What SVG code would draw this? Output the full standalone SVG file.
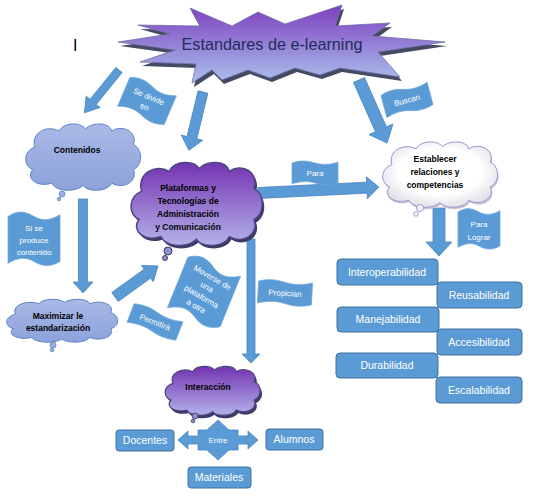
<svg xmlns="http://www.w3.org/2000/svg" xmlns:xlink="http://www.w3.org/1999/xlink" width="534" height="504" viewBox="0 0 534 504">
<style>
.arr{fill:#5b9bd5;stroke:#4a86c2;stroke-width:0.8}
.flag{fill:#5b9bd5;stroke:#6fa8dc;stroke-width:0.8}
.ft{font-family:"Liberation Sans",Arial,sans-serif;font-size:8px;fill:#ffffff;text-anchor:middle}
.box{fill:#5b9bd5;stroke:#41719c;stroke-width:1}
.bt{font-family:"Liberation Sans",Arial,sans-serif;font-size:10.5px;fill:#ffffff;text-anchor:middle}
.ct{font-family:"Liberation Sans",Arial,sans-serif;font-size:8.5px;font-weight:bold;fill:#000000;text-anchor:middle}
</style>
<defs>
<linearGradient id="gStar" x1="0" y1="0" x2="0" y2="1">
<stop offset="0" stop-color="#7f3fc0"/><stop offset="1" stop-color="#a9c0ec"/>
</linearGradient>
<linearGradient id="gBlue" x1="0" y1="0" x2="0" y2="1">
<stop offset="0" stop-color="#aab9e6"/><stop offset="1" stop-color="#8ca2da"/>
</linearGradient>
<linearGradient id="gPurple" x1="0" y1="0" x2="0" y2="1">
<stop offset="0" stop-color="#7433b2"/><stop offset="1" stop-color="#b3b2ea"/>
</linearGradient>
<radialGradient id="gWhite" cx="0.5" cy="0.45" r="0.6">
<stop offset="0.6" stop-color="#ffffff"/><stop offset="1" stop-color="#dcdce4"/>
</radialGradient>
<path id="cloud" vector-effect="non-scaling-stroke" d="M10,22 C6,10 20,2 30,8 C34,0 48,0 52,6 C58,0 72,0 74,8 C82,2 96,8 92,20 C100,24 100,38 92,42 C96,52 84,60 74,54 C70,62 54,62 50,56 C44,62 28,62 24,54 C12,58 2,50 8,42 C0,38 0,26 10,22 Z"/>
<path id="flag" vector-effect="non-scaling-stroke" d="M-50,-25 C-30,-33 -15,-30 0,-25 C15,-20 30,-20 50,-27 L50,25 C30,32 15,30 0,25 C-15,20 -30,20 -50,27 Z"/>
</defs>
<rect width="534" height="504" fill="#ffffff"/>

<text x="73" y="51" font-family="Liberation Sans,Arial,sans-serif" font-size="16" fill="#000">I</text>

<g id="connectors">
<polygon class="arr" transform="translate(119,70) rotate(129)" points="0,-4 41,-4 41,-9 55,0 41,9 41,4 0,4"/>
<polygon class="arr" transform="translate(203,92) rotate(103.6)" points="0,-5 47,-5 47,-11 60,0 47,11 47,5 0,5"/>
<polygon class="arr" transform="translate(359,80) rotate(66)" points="0,-6 54,-6 54,-13 69,0 54,13 54,6 0,6"/>
<polygon class="arr" transform="translate(258,193) rotate(-2.8)" points="0,-5.5 109,-5.5 109,-11 121,0 109,11 109,5.5 0,5.5"/>
<polygon class="arr" transform="translate(439,208) rotate(90)" points="0,-6 34,-6 34,-13 48,0 34,13 34,6 0,6"/>
<polygon class="arr" transform="translate(83,199) rotate(90)" points="0,-4.5 83,-4.5 83,-10 94,0 83,10 83,4.5 0,4.5"/>
<polygon class="arr" transform="translate(115,297) rotate(-35.8)" points="0,-5.5 40,-5.5 40,-10 53,0 40,10 40,5.5 0,5.5"/>
<polygon class="arr" transform="translate(251,239) rotate(90)" points="0,-4 115,-4 115,-9 124,0 115,9 115,4 0,4"/>

<g id="lbl-sedivide" transform="translate(147,101) rotate(23)">
<use href="#flag" class="flag" transform="scale(0.5,0.6)"/>
<text class="ft" y="-2">Se divide</text><text class="ft" y="9">en</text>
</g>
<g id="lbl-buscan" transform="translate(407,100) rotate(-15)">
<use href="#flag" class="flag" transform="scale(0.48,0.44)"/>
<text class="ft" y="3">Buscan</text>
</g>
<g id="lbl-para" transform="translate(315,173)">
<use href="#flag" class="flag" transform="scale(0.46,0.4)"/>
<text class="ft" y="3">Para</text>
</g>
<g id="lbl-paralograr" transform="translate(479,229)">
<use href="#flag" class="flag" transform="scale(0.42,0.68)"/>
<text class="ft" y="-2">Para</text><text class="ft" y="11">Lograr</text>
</g>
<g id="lbl-siproduce" transform="translate(34,239)">
<use href="#flag" class="flag" transform="scale(0.52,0.9)"/>
<text class="ft" y="-8">Si se</text><text class="ft" y="4">produce</text><text class="ft" y="16">contenido</text>
</g>
<g id="lbl-moverse" transform="translate(204,292) rotate(22)">
<use href="#flag" class="flag" transform="scale(0.56,1.05)"/>
<g transform="rotate(8)">
<text class="ft" y="-14">Moverse de</text><text class="ft" y="-3">una</text><text class="ft" y="8">plataforma</text><text class="ft" y="19">a otra</text>
</g>
</g>
<g id="lbl-permitira" transform="translate(155,322) rotate(21)">
<use href="#flag" class="flag" transform="scale(0.52,0.38)"/>
<text class="ft" y="3" font-size="9">Permitirá</text>
</g>
<g id="lbl-propician" transform="translate(285,293) rotate(3)">
<use href="#flag" class="flag" transform="scale(0.54,0.42)"/>
<text class="ft" y="3">Propician</text>
</g>
</g>

<g id="node-star">
<path fill="#444a62" transform="translate(2,4)" d="M190,8 L232,26 L258,12 L285,24 L342,5 L335,26 L390,23 L372,36 L445,42 L378,52 L400,77 L340,68 L320,75 L295,68 L270,78 L248,70 L222,80 L212,70 L192,83 L196,64 L140,62 L175,50 L118,42 L170,34 L138,25 L200,26 Z"/>
<path fill="url(#gStar)" stroke="#7070a8" stroke-width="0.8" d="M190,8 L232,26 L258,12 L285,24 L342,5 L335,26 L390,23 L372,36 L445,42 L378,52 L400,77 L340,68 L320,75 L295,68 L270,78 L248,70 L222,80 L212,70 L192,83 L196,64 L140,62 L175,50 L118,42 L170,34 L138,25 L200,26 Z"/>
<text x="272" y="50" font-family="Liberation Sans,Arial,sans-serif" font-size="17" fill="#1f2d5c" text-anchor="middle" textLength="181" lengthAdjust="spacingAndGlyphs">Estandares de e-learning</text>
</g>

<g id="node-contenidos">
<use href="#cloud" fill="url(#gBlue)" stroke="#5b85c8" stroke-width="1" transform="translate(23,122) scale(1.2,1.133)"/>
<circle cx="62" cy="194" r="3" fill="#9aaee0" stroke="#5b85c8" stroke-width="0.8"/>
<circle cx="59" cy="199" r="1.8" fill="#9aaee0" stroke="#5b85c8" stroke-width="0.8"/>
<text class="ct" x="77" y="153">Contenidos</text>
</g>

<g id="node-plataformas">
<use href="#cloud" fill="#3e3a66" transform="translate(130,163) scale(1.37,1.417)"/>
<use href="#cloud" fill="url(#gPurple)" stroke="#4d4680" stroke-width="1.5" transform="translate(128,160) scale(1.37,1.417)"/>
<circle cx="168" cy="251" r="4" fill="#8d92c8" stroke="#3e3a66" stroke-width="1"/>
<circle cx="165" cy="258" r="2.5" fill="#8d92c8" stroke="#3e3a66" stroke-width="1"/>
<text class="ct" x="188" y="191" font-size="9.5">Plataformas  y</text>
<text class="ct" x="188" y="204" font-size="9.5">Tecnologías  de</text>
<text class="ct" x="188" y="217" font-size="9.5">Administración</text>
<text class="ct" x="188" y="230" font-size="9.5">y Comunicación</text>
</g>

<g id="node-establecer">
<use href="#cloud" fill="#c8c8d2" transform="translate(381,142) scale(1.2,1.117)"/>
<use href="#cloud" fill="url(#gWhite)" stroke="#a68ad2" stroke-width="1" transform="translate(380,140) scale(1.2,1.117)"/>
<circle cx="420" cy="208" r="3.5" fill="#f4f4f8" stroke="#9a7cc8" stroke-width="0.8"/>
<circle cx="416" cy="214" r="2.3" fill="#f4f4f8" stroke="#9a7cc8" stroke-width="0.8"/>
<text class="ct" x="435" y="162" font-weight="normal" font-size="9">Establecer</text>
<text class="ct" x="435" y="175" font-weight="normal" font-size="9">relaciones  y</text>
<text class="ct" x="435" y="188" font-weight="normal" font-size="9">competencias</text>
</g>

<g id="node-maximizar">
<use href="#cloud" fill="url(#gBlue)" stroke="#5b85c8" stroke-width="1" transform="translate(4,298) scale(1.16,0.733)"/>
<circle cx="53" cy="345" r="3" fill="#9aaee0" stroke="#5b85c8" stroke-width="0.8"/>
<circle cx="52" cy="350" r="1.8" fill="#9aaee0" stroke="#5b85c8" stroke-width="0.8"/>
<text class="ct" x="58" y="319" font-size="8">Maximizar  le</text>
<text class="ct" x="58" y="331" font-size="8">estandarización</text>
</g>

<g id="node-interaccion">
<use href="#cloud" fill="#3e3a66" transform="translate(165,368) scale(0.99,0.833)"/>
<use href="#cloud" fill="url(#gPurple)" stroke="#4d4680" stroke-width="1.2" transform="translate(163,365) scale(0.99,0.833)"/>
<circle cx="195" cy="416" r="3" fill="#8d92c8" stroke="#3e3a66" stroke-width="0.8"/>
<circle cx="193" cy="421" r="1.8" fill="#8d92c8" stroke="#3e3a66" stroke-width="0.8"/>
<text class="ct" x="208" y="390" font-size="8">Interacción</text>
</g>

<g id="node-interoperabilidad"><rect class="box" x="337" y="259" width="101" height="26" rx="4"/><text class="bt" x="387" y="276">Interoperabilidad</text></g>
<g id="node-reusabilidad"><rect class="box" x="437" y="282" width="85" height="26" rx="4"/><text class="bt" x="479" y="299">Reusabilidad</text></g>
<g id="node-manejabilidad"><rect class="box" x="337" y="307" width="102" height="25" rx="4"/><text class="bt" x="388" y="323">Manejabilidad</text></g>
<g id="node-accesibilidad"><rect class="box" x="437" y="329" width="85" height="26" rx="4"/><text class="bt" x="479" y="346">Accesibilidad</text></g>
<g id="node-durabilidad"><rect class="box" x="336" y="353" width="102" height="25" rx="4"/><text class="bt" x="387" y="369">Durabilidad</text></g>
<g id="node-escalabilidad"><rect class="box" x="436" y="377" width="86" height="26" rx="4"/><text class="bt" x="479" y="394">Escalabilidad</text></g>

<g id="node-entre">
<polygon class="arr" points="218,420 229,430 238,430 238,436 248,436 248,431 258,440 248,449 248,444 238,444 238,450 229,450 218,460 207,450 198,450 198,444 188,444 188,449 178,440 188,431 188,436 198,436 198,430 207,430"/>
<text class="ft" x="218" y="443" font-size="9">Entre</text>
</g>
<g id="node-docentes"><rect class="box" x="116" y="430" width="58" height="21" rx="3"/><text class="bt" x="145" y="444" font-size="9">Docentes</text></g>
<g id="node-alumnos"><rect class="box" x="266" y="429" width="57" height="21" rx="3"/><text class="bt" x="294" y="443" font-size="9">Alumnos</text></g>
<g id="node-materiales"><rect class="box" x="188" y="467" width="63" height="21" rx="3"/><text class="bt" x="219" y="481" font-size="9">Materiales</text></g>
</svg>
